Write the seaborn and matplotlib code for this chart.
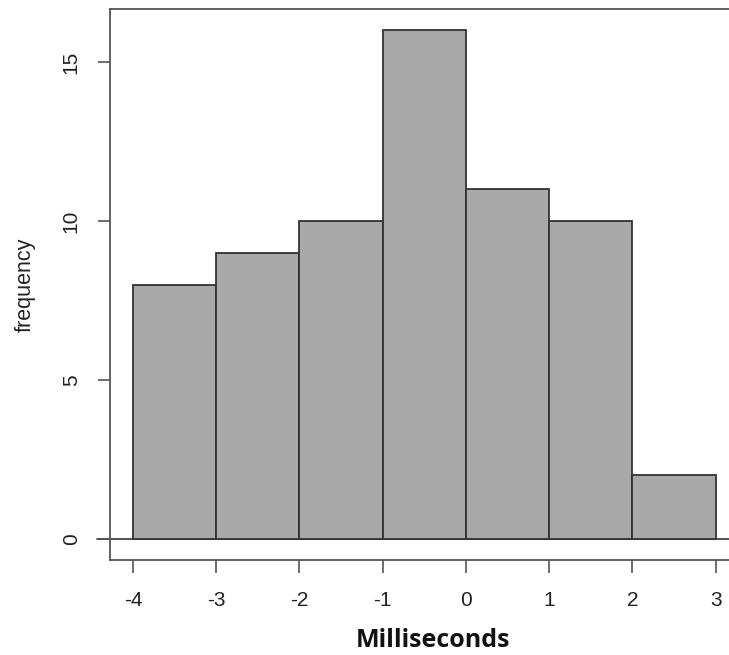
import matplotlib
matplotlib.use("Agg")
import matplotlib.pyplot as plt
import seaborn as sns
import numpy as np

bin_edges = [-4, -3, -2, -1, 0, 1, 2, 3]
counts = [8, 9, 10, 16, 11, 10, 2]
x_ticks = [-4, -3, -2, -1, 0, 1, 2, 3]
y_ticks = [0, 5, 10, 15]

sns.set_style("white")
plt.rcParams['font.family'] = ['Liberation Sans', 'DejaVu Sans']

centers = [(a + b) / 2 for a, b in zip(bin_edges[:-1], bin_edges[1:])]

fig = plt.figure(figsize=(7.29, 6.55), dpi=100)
ax = fig.add_axes([110/729, 95/655, 629/729, 551/655])

sns.histplot(x=centers, weights=counts, bins=bin_edges, ax=ax,
             color="#a9a9a9", edgecolor="#333333", linewidth=1.3, alpha=1.0)

ax.set_xlim(-4.276, 3.28)
ax.set_ylim(-0.66, 16.67)
ax.axhline(0, xmin=-0.0206, xmax=1, color="#333333", linewidth=1.2, clip_on=False, zorder=0)

for s in ax.spines.values():
    s.set_color("#555555")
    s.set_linewidth(1.3)

ax.set_xticks(x_ticks)
ax.set_xticklabels([str(v) for v in x_ticks])
ax.set_yticks(y_ticks)
ax.set_yticklabels([str(v) for v in y_ticks], rotation=90, va="center")
ax.tick_params(axis="both", which="major", direction="out", length=9, width=1.2,
               color="#555555", labelsize=15, labelcolor="#222222", left=True, bottom=True)
ax.tick_params(axis="x", pad=13)
ax.tick_params(axis="y", pad=12)

ax.set_xlabel("Milliseconds", fontsize=18, fontweight="bold", labelpad=14,
              family=["Open Sans", "DejaVu Sans"], color="#111111")
ax.xaxis.set_label_coords(0.514, -0.123)
ax.set_ylabel("frequency", fontsize=15.5, labelpad=19, color="#222222")

fig.savefig("out.png", dpi=100)
